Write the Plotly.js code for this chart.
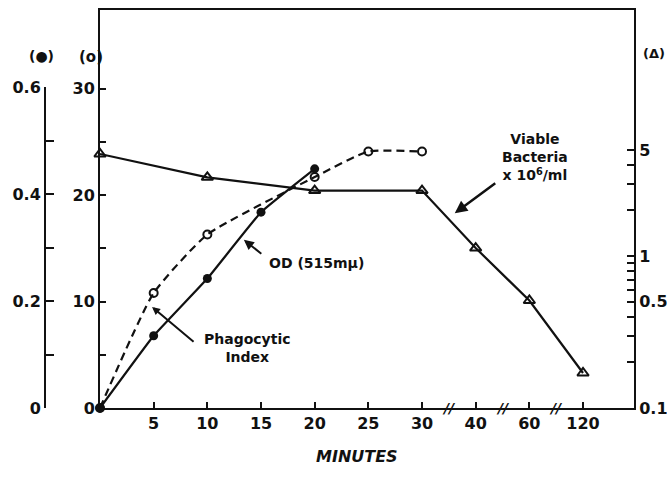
<!DOCTYPE html>
<html><head><meta charset="utf-8">
<script src="https://cdn.plot.ly/plotly-3.0.1.min.js"></script>
<style>body{margin:0;background:#fff}#c{width:667px;height:480px}</style>
</head><body><div id="c"></div>
<script>
// Categories (minutes) – placed at equal spacing with axis breaks after 30, 40, 60
const minutes = ['0','5','10','15','20','25','30','40','60','120'];
const tickMinutes = ['5','10','15','20','25','30','40','60','120'];
const breakPositions = [6.5, 7.5, 8.5];

// OD (515 mµ), open circles, inner left axis (o)
const odX = ['0','5','10','20','25','30'];
const odY = [0, 10.8, 16.3, 21.7, 24.1, 24.1];

// Phagocytic index, filled circles, outer left axis (●)
const piX = ['0','5','10','15','20'];
const piY = [0, 0.135, 0.242, 0.366, 0.447];

// Viable bacteria x10^6/ml, open triangles, right log axis (Δ)
const vbX = ['0','10','20','30','40','60','120'];
const vbY = [4.7, 3.3, 2.7, 2.7, 1.13, 0.51, 0.17];

// Axis tick values
const innerTicks = [0,5,10,15,20,25,30];
const innerText  = ['0','','10','','20','','30'];
const outerTicks = [0,0.1,0.2,0.3,0.4,0.5,0.6];
const outerText  = ['0','','0.2','','0.4','','0.6'];
const logTicks = [0.1,0.2,0.3,0.4,0.5,0.6,0.7,0.8,0.9,1,2,3,4,5];
const logText  = ['0.1','','','','0.5','','','','','1','','','','5'];

const F = 'DejaVu Sans';
const ink = '#111';

const traces = [
  {x: odX, y: odY, xaxis:'x', yaxis:'y', mode:'lines+markers', cliponaxis:false,
   line:{color:ink, width:2.2, dash:'8px,5px', shape:'spline', smoothing:0.5},
   marker:{symbol:'circle-open', size:8, color:ink, line:{width:2}}},
  {x: piX, y: piY, xaxis:'x', yaxis:'y3', mode:'lines+markers', cliponaxis:false,
   line:{color:ink, width:2.2, shape:'spline', smoothing:0.3},
   marker:{symbol:'circle', size:9, color:ink}},
  {x: vbX, y: vbY, xaxis:'x', yaxis:'y2', mode:'lines+markers', cliponaxis:false,
   line:{color:ink, width:2.2},
   marker:{symbol:'triangle-up-open', size:10, color:ink, line:{width:2}}}
];

const W = 614, L = 20;
const px = v => (v - L) / W;           // pixel -> paper x
const py = v => (408 - v) / 398;       // pixel -> paper y

const tickFont = {family:F, size:16, color:ink, weight:'bold'};
const annFont = {family:F, size:14, color:ink, weight:'bold'};

const annotations = [
  {xref:'paper', yref:'paper', x:px(27), y:py(46), text:'(●)', showarrow:false, font:{family:F,size:14,color:ink,weight:'bold'}},
  {xref:'paper', yref:'paper', x:px(77), y:py(46), text:'(o)', showarrow:false, font:{family:F,size:15,color:ink,weight:'bold'}},
  {xref:'paper', yref:'paper', x:px(641), y:py(44), xanchor:'left', text:'(Δ)', showarrow:false, font:{family:F,size:13,color:ink,weight:'bold'}},
  {xref:'paper', yref:'paper', x:px(357), y:py(468), text:'<i>MINUTES</i>', showarrow:false, font:{family:F,size:16,color:ink,weight:'bold'}},
  // Curve labels
  {xref:'x', yref:'y', x:4.03, y:13.6, text:'OD (515mµ)', showarrow:false, font:annFont},
  {xref:'x', yref:'y', x:2.75, y:5.6, text:'Phagocytic<br>Index', showarrow:false, font:annFont},
  {xref:'x', yref:'y', x:8.1, y:23.6, text:'Viable<br>Bacteria<br>x 10<sup>6</sup>/ml', showarrow:false, font:annFont},
  // Arrows
  {xref:'x', yref:'y', x:2.68, y:15.8, ax:19, ay:15, text:'', showarrow:true, arrowhead:2, arrowsize:1, arrowwidth:2, arrowcolor:ink},
  {xref:'x', yref:'y', x:0.97, y:9.5, ax:43, ay:36, text:'', showarrow:true, arrowhead:2, arrowsize:0.8, arrowwidth:2, arrowcolor:ink},
  {xref:'x', yref:'y', x:6.61, y:18.3, ax:42, ay:-31, text:'', showarrow:true, arrowhead:2, arrowsize:1, arrowwidth:2.5, arrowcolor:ink}
];
breakPositions.forEach(b => annotations.push(
  {xref:'x', yref:'paper', x:b, y:0, text:'<i>//</i>', showarrow:false, yanchor:'middle',
   font:{family:F, size:14, color:ink, weight:'bold'}, bgcolor:'rgba(255,255,255,0)'}));

const layout = {
  width:667, height:480,
  margin:{l:L, r:33, t:10, b:72},
  paper_bgcolor:'#fff', plot_bgcolor:'rgba(0,0,0,0)',
  showlegend:false,
  xaxis:{domain:[px(100),1], anchor:'y', type:'category', categoryorder:'array', categoryarray:minutes,
         range:[0,9.95], tickmode:'array', tickvals:tickMinutes, ticktext:tickMinutes,
         ticks:'inside', ticklen:6, tickwidth:2, tickcolor:ink, showline:true, linewidth:2, linecolor:ink,
         mirror:true, showgrid:false, zeroline:false, tickfont:tickFont},
  yaxis:{anchor:'x', range:[0,37.4], tickmode:'array', tickvals:innerTicks, ticktext:innerText,
         ticks:'inside', ticklen:6, tickwidth:2, tickcolor:ink, showline:true, linewidth:2, linecolor:ink,
         showgrid:false, zeroline:false, tickfont:tickFont},
  yaxis2:{overlaying:'y', side:'right', anchor:'x', type:'log', range:[-1,1.62], tickmode:'array',
          tickvals:logTicks, ticktext:logText, ticks:'inside', ticklen:7, tickwidth:2, tickcolor:ink,
          showline:true, linewidth:2, linecolor:ink, showgrid:false, zeroline:false, tickfont:tickFont},
  yaxis3:{domain:[0, py(87)], anchor:'free', position:px(45), side:'left', range:[0,0.6],
          tickmode:'array', tickvals:outerTicks, ticktext:outerText, ticks:'inside', ticklen:8, tickwidth:2,
          tickcolor:ink, showline:true, linewidth:2, linecolor:ink, showgrid:false, zeroline:false, tickfont:tickFont},
  annotations: annotations
};

Plotly.newPlot('c', traces, layout, {staticPlot:true});
</script></body></html>
